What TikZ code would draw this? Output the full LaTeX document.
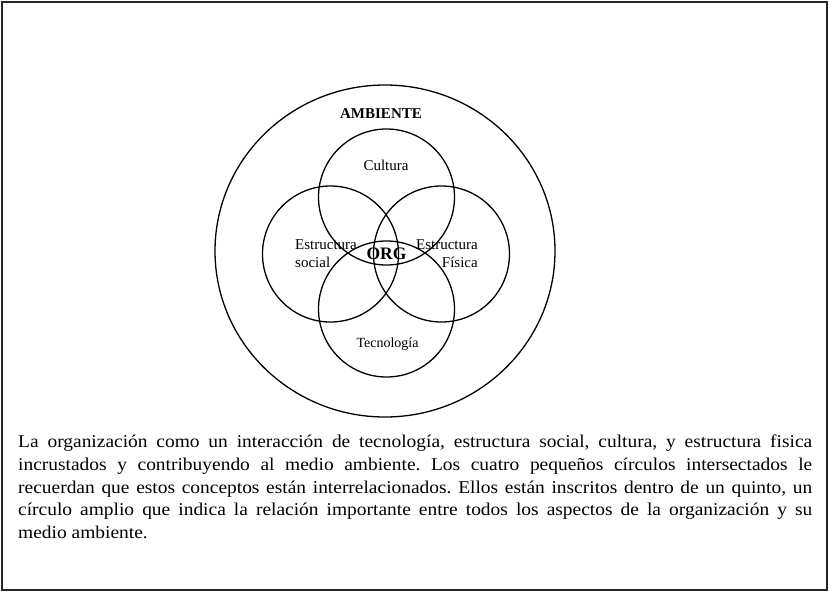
\documentclass[tikz,border=0pt]{standalone}
\usepackage{fontspec}
\setmainfont{Liberation Serif}
\newfontfamily\capfont[FakeStretch=1.08]{Liberation Serif}
\begin{document}
\frenchspacing
\begin{tikzpicture}[x=1pt,y=-1pt,
  ring/.style={draw=black,line width=1.3pt},
  lbl/.style={font=\fontsize{15}{18}\selectfont,inner sep=0pt},
  boldlbl/.style={font=\fontsize{15}{18}\selectfont\bfseries,inner sep=0pt}]
\useasboundingbox (0,0) rectangle (829,592);
\draw[line width=1.6pt,draw=black!85] (2,2) rectangle (827,590);
% big circle
\draw[ring] (385,251) ellipse [x radius=170, y radius=166];
% four small circles
\draw[ring] (386.5,197) circle [radius=68];
\draw[ring] (330.5,254) circle [radius=68];
\draw[ring] (441.5,254) circle [radius=68];
\draw[ring] (386.5,309) circle [radius=68];
% labels
\node[boldlbl,anchor=base] (amb) at (381,118) {AMBIENTE};
\node[lbl,anchor=base] (cul) at (386,170) {Cultura};
\node[lbl,align=left,anchor=base west] (soc) at (295,267) {Estructura\\social};
\node[lbl,align=right,anchor=base east] (fis) at (478,267) {Estructura\\Física};
\node[font=\fontsize{17.5}{20}\selectfont\bfseries,inner sep=0pt,anchor=base] (org) at (386.5,259) {ORG};
\node[lbl,font=\fontsize{14}{16}\selectfont,anchor=base] (tec) at (387.5,347) {Tecnología};
% caption
\node[anchor=north west,inner sep=0pt,text width=794pt,align=justify,
      font=\capfont\fontsize{18}{22.7}\selectfont] (cap) at (18,431.8)
{\strut La organización como un interacción de tecnología, estructura social, cultura, y estructura fisica\linebreak
incrustados y contribuyendo al medio ambiente. Los cuatro pequeños círculos intersectados le\linebreak
recuerdan que estos conceptos están interrelacionados. Ellos están inscritos dentro de un quinto, un\linebreak
círculo amplio que indica la relación importante entre todos los aspectos de la organización y su\linebreak
medio ambiente.};
\end{tikzpicture}
\end{document}
